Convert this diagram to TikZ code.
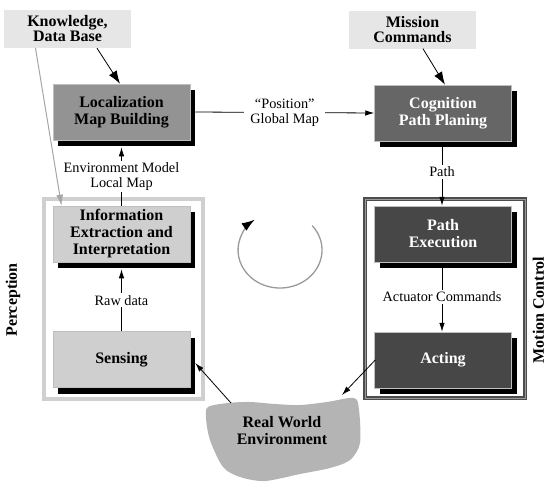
\documentclass[tikz,border=0pt]{standalone}
\usepackage{fontspec}
\setmainfont{Liberation Serif}
\usetikzlibrary{arrows.meta,shadows}
\definecolor{kbg}{HTML}{E6E6E6}
\definecolor{locg}{HTML}{939393}
\definecolor{cogg}{HTML}{666666}
\definecolor{lg}{HTML}{CFCFCF}
\definecolor{dg}{HTML}{474747}
\definecolor{framedk}{HTML}{4D4D4D}
\definecolor{blobg}{HTML}{B4B4B4}
\definecolor{cycg}{HTML}{9A9A9A}
\begin{document}
\begin{tikzpicture}[x=1pt,y=-1pt,
  boxfont/.style={font=\fontsize{16}{17}\selectfont\bfseries},
  box/.style={rectangle, boxfont, align=center, minimum width=137pt, minimum height=56pt, inner sep=2pt,
    draw=white!75!black, line width=0.5pt,
    drop shadow={shadow xshift=5pt, shadow yshift=-6pt, fill=black, opacity=1, draw=none}},
  kbox/.style={rectangle, font=\fontsize{16}{15}\selectfont\bfseries, align=center, fill=kbg,
    minimum width=127pt, minimum height=38pt, inner sep=1pt},
  lbl/.style={font=\fontsize{14.3}{15}\selectfont, align=center, fill=white, inner sep=2pt},
  arr/.style={draw=black, line width=0.8pt, -{Latex[length=9pt,width=5.5pt]}},
  bigarr/.style={draw=black, line width=0.8pt, -{Latex[length=13pt,width=9pt]}},
  grayarr/.style={draw=gray!70, line width=1pt, -{Latex[length=11pt,width=7pt]}},
  sidelbl/.style={rotate=90, font=\fontsize{16}{17}\selectfont\bfseries}
]
\useasboundingbox (0,0) rectangle (549,482);

% frames
\node[draw=lg, line width=4pt, minimum width=159pt, minimum height=200pt, inner sep=0pt] (percframe) at (123.5,299) {};
\node[draw=framedk, line width=1.4pt, double=white!60!black, double distance=1pt,
      minimum width=160pt, minimum height=199pt, inner sep=0pt] (motframe) at (445,298.5) {};

% side labels
\node[sidelbl] (perc) at (13,300) {Perception};
\node[sidelbl] (motion) at (538.5,310) {Motion Control};

% top boxes
\node[kbox] (know) at (67.5,29) {Knowledge,\\Data Base};
\node[kbox] (miss) at (412.5,29.5) {Mission\\Commands};

% main boxes
\node[box, fill=locg] (loc) at (121.5,112) {Localization\\Map Building};
\node[box, fill=cogg, text=white] (cog) at (443,113) {Cognition\\Path Planing};
\node[box, fill=lg] (info) at (121.5,234) {Information\\Extraction and\\Interpretation};
\node[box, fill=lg] (sens) at (121.5,359.5) {Sensing};
\node[box, fill=dg, text=white] (pexec) at (443,234) {Path\\Execution};
\node[box, fill=dg, text=white] (act) at (443,360) {Acting};

% real world blob
\fill[blobg] plot[smooth cycle, tension=0.5] coordinates {
  (208,407) (228,403) (250,402) (275,404) (300,405) (327,402) (354,398)
  (359,410) (360,443) (350,460) (330,468) (300,474) (265,481) (240,477)
  (223,467) (210,440) (206,418)};
\node[boxfont, align=center, inner sep=0pt] (rwe) at (282,431) {Real World\\Environment};
\coordinate (rw1) at (231,403);
\coordinate (rw2) at (342,395);

% cycle arrow
\coordinate (cyc) at (280,250);
\draw[draw=cycg, line width=1.3pt, -{Latex[length=13pt,width=9pt,fill=black,color=black]}]
  ([shift={(32.2,-24.4)}]cyc) arc[start angle=-40, end angle=233, x radius=42, y radius=38];

% connectors
\draw[bigarr] ([xshift=29.5pt]know.south) -- ([xshift=-1.5pt]loc.north);
\draw[grayarr] ([xshift=-32pt]know.south) -- ([xshift=-60pt]info.north);
\draw[bigarr] ([xshift=10.5pt]miss.south) -- ([xshift=2pt]cog.north);

\draw[arr] ([xshift=5pt]loc.east) -- node[lbl, inner xsep=6pt] {“Position”\\Global Map} (cog.west);
\draw[arr] (info.north) -- node[lbl] {Environment Model\\Local Map} ([yshift=-7pt]loc.south);
\draw[arr] (sens.north) -- node[lbl] {Raw data} ([yshift=-7pt]info.south);
\draw[arr] ([xshift=-1pt,yshift=-6pt]cog.south) -- node[lbl, pos=0.42] {Path} ([xshift=-1pt]pexec.north);
\draw[arr] ([xshift=-1pt,yshift=-6pt]pexec.south) -- node[lbl, pos=0.45] {Actuator Commands} ([xshift=-1pt]act.north);

\draw[arr] (rw1) -- ([xshift=5pt,yshift=-3.5pt]sens.east);
\draw[arr] ([xshift=1pt]act.west) -- (rw2);
\end{tikzpicture}
\end{document}
